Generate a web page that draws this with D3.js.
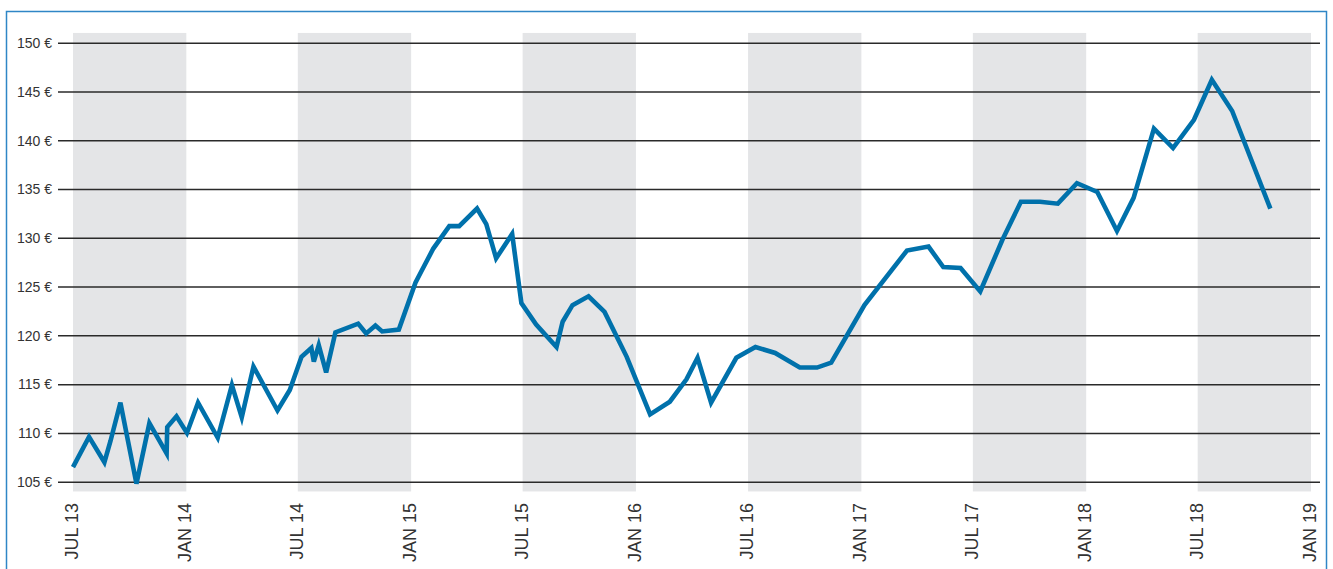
<!DOCTYPE html>
<html lang="de">
<head>
    <meta charset="UTF-8">
    <title>Preisentwicklung</title>
    <style>
        body { margin: 0; background: #fff; }
        .band { fill: #e4e5e7; }
        .grid line { stroke: #2a2a2a; stroke-width: 1.5; }
        .grid text { font-family: "Liberation Sans", sans-serif; font-size: 14px; fill: #333; }
        .xlabel { font-family: "Liberation Sans", sans-serif; font-size: 18px; fill: #333; }
        .price { fill: none; stroke: #0071ab; stroke-width: 4.6; stroke-linejoin: miter; }
    </style>
</head>
<body>
<svg class="chart"></svg>
<script src="https://d3js.org/d3.v7.min.js"></script>
<script>
    // price points
    var dates = ["2013-07-01", "2013-07-27", "2013-08-21", "2013-08-31", "2013-09-16", "2013-10-12",
        "2013-11-02", "2013-11-30", "2013-12-01", "2013-12-16", "2014-01-02", "2014-01-20",
        "2014-02-21", "2014-03-16", "2014-04-01", "2014-04-20", "2014-05-29", "2014-06-18",
        "2014-07-07", "2014-07-23", "2014-07-27", "2014-08-04", "2014-08-16", "2014-08-31",
        "2014-10-07", "2014-10-20", "2014-11-04", "2014-11-15", "2014-12-12", "2015-01-08",
        "2015-01-17", "2015-02-06", "2015-03-04", "2015-03-20", "2015-04-18", "2015-05-03",
        "2015-05-19", "2015-06-14", "2015-06-29", "2015-07-23", "2015-08-25", "2015-09-04",
        "2015-09-20", "2015-10-16", "2015-11-11", "2015-12-17", "2016-01-24", "2016-02-25",
        "2016-03-23", "2016-04-10", "2016-05-02", "2016-06-12", "2016-07-13", "2016-08-14",
        "2016-09-23", "2016-10-21", "2016-11-13", "2017-01-06", "2017-03-16", "2017-04-20",
        "2017-05-14", "2017-06-11", "2017-07-13", "2017-08-18", "2017-09-17", "2017-10-18",
        "2017-11-16", "2017-12-17", "2018-01-19", "2018-02-20", "2018-03-19", "2018-04-21",
        "2018-05-22", "2018-06-25", "2018-07-24", "2018-08-26", "2018-09-26", "2018-10-27"]
    var prices = [106.5, 109.6, 107.0, 109.2, 113.1, 104.8,
        111.0, 107.9, 110.6, 111.7, 110.0, 113.1,
        109.5, 114.9, 111.6, 116.8, 112.3, 114.4,
        117.8, 118.7, 117.3, 119.0, 116.2, 120.3,
        121.2, 120.2, 121.0, 120.4, 120.6, 125.4,
        126.5, 128.9, 131.2, 131.2, 133.0, 131.4,
        127.9, 130.4, 123.3, 121.1, 118.8, 121.4,
        123.1, 124.0, 122.4, 117.8, 111.9, 113.2,
        115.5, 117.7, 113.1, 117.7, 118.8, 118.2,
        116.7, 116.7, 117.2, 123.1, 128.7, 129.1,
        127.0, 126.9, 124.5, 129.8, 133.7, 133.7,
        133.5, 135.6, 134.7, 130.7, 134.1, 141.2,
        139.2, 142.1, 146.2, 143.0, 138.0, 133.0]

    var tickDates = ["2013-07-01", "2014-01-01", "2014-07-01", "2015-01-01", "2015-07-01", "2016-01-01",
        "2016-07-01", "2017-01-01", "2017-07-01", "2018-01-01", "2018-07-01", "2019-01-01"]
    var tickLabels = ["JUL 13", "JAN 14", "JUL 14", "JAN 15", "JUL 15", "JAN 16",
        "JUL 16", "JAN 17", "JUL 17", "JAN 18", "JUL 18", "JAN 19"]
    var yTicks = [105, 110, 115, 120, 125, 130, 135, 140, 145, 150]

    var svgWidth = 1333, svgHeight = 569
    var parse = d3.timeParse('%Y-%m-%d')

    var svg = d3.select('svg')
        .attr('width', svgWidth)
        .attr('height', svgHeight)

    // frame
    svg.append('rect')
        .attr('x', 6.5).attr('y', 11.5)
        .attr('width', 1320).attr('height', 600)
        .attr('fill', 'none')
        .attr('stroke', '#2f86c6')
        .attr('stroke-width', 1.5)

    var xScale = d3.scaleTime()
        .domain([parse(tickDates[0]), parse(tickDates[tickDates.length - 1])])
        .range([73, 1311])

    var yScale = d3.scaleLinear()
        .domain([105, 150])
        .range([481.7, 42.7])

    // grey half-year bands (Jul - Jan)
    var bands = d3.range(0, tickDates.length - 1, 2)
    svg.selectAll('rect.band')
        .data(bands)
        .enter()
        .append('rect')
        .attr('class', 'band')
        .attr('x', function (i) { return xScale(parse(tickDates[i])) })
        .attr('width', function (i) {
            return xScale(parse(tickDates[i + 1])) - xScale(parse(tickDates[i]))
        })
        .attr('y', yScale(151))
        .attr('height', yScale(104) - yScale(151))

    var yAxis = d3.axisLeft(yScale)
        .tickValues(yTicks)
        .tickSize(-(1320 - 58))
        .tickPadding(6)
        .tickFormat(function (d) { return d + ' €' })

    var grid = svg.append('g')
        .attr('class', 'grid')
        .attr('transform', 'translate(58,0)')
        .call(yAxis)
    grid.select('.domain').remove()
    grid.selectAll('text').attr('font-family', null).attr('font-size', null)
        .attr('fill', null).attr('dy', '0.34em')

    svg.selectAll('text.xlabel')
        .data(tickDates)
        .enter()
        .append('text')
        .attr('class', 'xlabel')
        .attr('text-anchor', 'end')
        .attr('dy', 5)
        .attr('transform', function (d) {
            return 'translate(' + xScale(parse(d)) + ',503) rotate(-90)'
        })
        .text(function (d, i) { return tickLabels[i] })

    var points = dates.map(function (d, i) { return [parse(d), prices[i]] })

    var line = d3.line()
        .x(function (d) { return xScale(d[0]) })
        .y(function (d) { return yScale(d[1]) })

    svg.append('path')
        .datum(points)
        .attr('class', 'price')
        .attr('d', line)
</script>
</body>
</html>
